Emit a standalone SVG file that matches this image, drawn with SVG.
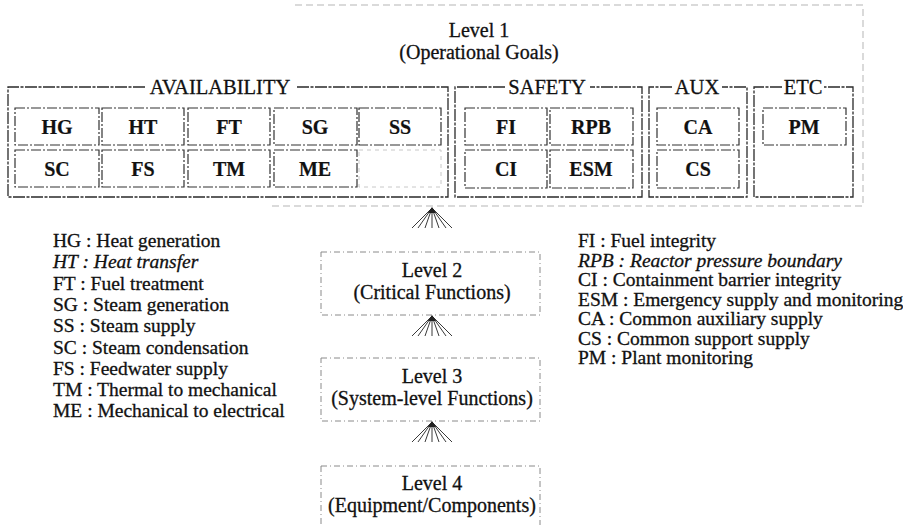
<svg xmlns="http://www.w3.org/2000/svg" width="903" height="525" viewBox="0 0 903 525">
<style>
text{font-family:"Liberation Serif","Times New Roman",serif;fill:#111;stroke:#111;stroke-width:0.3}
.lvl{font-size:20px;text-anchor:middle}
.grp{font-size:20.5px;text-anchor:middle}
.cell{font-size:20px;font-weight:bold;text-anchor:middle;stroke-width:0.2}
.leg{font-size:19.5px}
.it{font-style:italic}
.gbox{fill:none;stroke:#2a2a2a;stroke-width:1.3;stroke-dasharray:12 1.5 3 1.5}
.cbox{fill:none;stroke:#333;stroke-width:1.2;stroke-dasharray:10 2 2 2}
.faint{fill:none;stroke:#c8c8c8;stroke-width:1;stroke-dasharray:4 4}
.lbox{fill:none;stroke:#8a8a8a;stroke-width:1;stroke-dasharray:6 3 1 3}
.outer{fill:none;stroke:#b5b5b5;stroke-width:1;stroke-dasharray:7 4}
.fan line{stroke:#222;stroke-width:0.9}
</style>
<defs>
<g id="fanShape" class="fan">
<line x1="0" y1="0" x2="-20" y2="20"/>
<line x1="0" y1="0" x2="-14" y2="20"/>
<line x1="0" y1="0" x2="-7" y2="20"/>
<line x1="0" y1="0" x2="0" y2="20"/>
<line x1="0" y1="0" x2="7" y2="20"/>
<line x1="0" y1="0" x2="14" y2="20"/>
<line x1="0" y1="0" x2="20" y2="20"/>
<path d="M0 -1 L-4 5 L4 5 Z" fill="#222"/>
</g>
</defs>
<rect width="903" height="525" fill="#fff"/>

<g id="level1">
<path class="outer" d="M295 5 H863 V206 H270"/>
<text class="lvl" x="479" y="37">Level 1</text>
<text class="lvl" x="479" y="59">(Operational Goals)</text>
</g>

<g id="availability">
<path class="gbox" d="M145 87 H8 V197 H448 V87 H296"/>
<text class="grp" x="220" y="94">AVAILABILITY</text>
</g>
<g id="HG"><rect class="cbox" x="15" y="108" width="84" height="37"/><text class="cell" x="57" y="134">HG</text></g>
<g id="HT"><rect class="cbox" x="102" y="108" width="82" height="37"/><text class="cell" x="143" y="134">HT</text></g>
<g id="FT"><rect class="cbox" x="188" y="108" width="82" height="37"/><text class="cell" x="229" y="134">FT</text></g>
<g id="SG"><rect class="cbox" x="274" y="108" width="83" height="37"/><text class="cell" x="315" y="134">SG</text></g>
<g id="SS"><rect class="cbox" x="359" y="108" width="82" height="37"/><text class="cell" x="400" y="134">SS</text></g>
<g id="SC"><rect class="cbox" x="15" y="150" width="84" height="37"/><text class="cell" x="57" y="176">SC</text></g>
<g id="FS"><rect class="cbox" x="102" y="150" width="82" height="37"/><text class="cell" x="143" y="176">FS</text></g>
<g id="TM"><rect class="cbox" x="188" y="150" width="82" height="37"/><text class="cell" x="229" y="176">TM</text></g>
<g id="ME"><rect class="cbox" x="274" y="150" width="83" height="37"/><text class="cell" x="315" y="176">ME</text></g>
<g id="empty1"><rect class="faint" x="359" y="150" width="82" height="37"/></g>

<g id="safety">
<path class="gbox" d="M505 87 H455 V197 H642 V87 H590"/>
<text class="grp" x="547" y="94">SAFETY</text>
</g>
<g id="FI"><rect class="cbox" x="465" y="108" width="82" height="37"/><text class="cell" x="506" y="134">FI</text></g>
<g id="RPB"><rect class="cbox" x="550" y="108" width="83" height="37"/><text class="cell" x="591" y="134">RPB</text></g>
<g id="CI"><rect class="cbox" x="465" y="150" width="82" height="38"/><text class="cell" x="506" y="176">CI</text></g>
<g id="ESM"><rect class="cbox" x="550" y="150" width="83" height="38"/><text class="cell" x="591" y="176">ESM</text></g>

<g id="aux">
<path class="gbox" d="M672 87 H649 V197 H747 V87 H722"/>
<text class="grp" x="697" y="94">AUX</text>
</g>
<g id="CA"><rect class="cbox" x="657" y="108" width="82" height="37"/><text class="cell" x="698" y="134">CA</text></g>
<g id="CS"><rect class="cbox" x="657" y="150" width="82" height="38"/><text class="cell" x="698" y="176">CS</text></g>

<g id="etc">
<path class="gbox" d="M782 87 H754 V197 H853 V87 H824"/>
<text class="grp" x="803" y="94">ETC</text>
</g>
<g id="PM"><rect class="cbox" x="763" y="108" width="83" height="37"/><text class="cell" x="804" y="134">PM</text></g>

<g id="level2">
<rect class="lbox" x="321" y="252" width="219" height="63"/>
<text class="lvl" x="432" y="277">Level 2</text>
<text class="lvl" x="432" y="299">(Critical Functions)</text>
</g>
<g id="level3">
<rect class="lbox" x="321" y="358" width="219" height="63"/>
<text class="lvl" x="432" y="383">Level 3</text>
<text class="lvl" x="432" y="405">(System-level Functions)</text>
</g>
<g id="level4">
<rect class="lbox" x="321" y="466" width="219" height="70"/>
<text class="lvl" x="432" y="490">Level 4</text>
<text class="lvl" x="432" y="512">(Equipment/Components)</text>
</g>

<g id="connectors">
<use href="#fanShape" x="432" y="208"/>
<use href="#fanShape" x="432" y="316"/>
<use href="#fanShape" x="432" y="422"/>
</g>

<g id="legend-left">
<text class="leg" x="53" y="247">HG : Heat generation</text>
<text class="leg it" x="53" y="268.3">HT : Heat transfer</text>
<text class="leg" x="53" y="289.6">FT : Fuel treatment</text>
<text class="leg" x="53" y="310.9">SG : Steam generation</text>
<text class="leg" x="53" y="332.2">SS : Steam supply</text>
<text class="leg" x="53" y="353.5">SC : Steam condensation</text>
<text class="leg" x="53" y="374.8">FS : Feedwater supply</text>
<text class="leg" x="53" y="396.1">TM : Thermal to mechanical</text>
<text class="leg" x="53" y="417.4">ME : Mechanical to electrical</text>
</g>
<g id="legend-right">
<text class="leg" x="578" y="247">FI : Fuel integrity</text>
<text class="leg it" x="578" y="266.5">RPB : Reactor pressure boundary</text>
<text class="leg" x="578" y="286">CI : Containment barrier integrity</text>
<text class="leg" x="578" y="305.5">ESM : Emergency supply and monitoring</text>
<text class="leg" x="578" y="325">CA : Common auxiliary supply</text>
<text class="leg" x="578" y="344.5">CS : Common support supply</text>
<text class="leg" x="578" y="364">PM : Plant monitoring</text>
</g>
</svg>
